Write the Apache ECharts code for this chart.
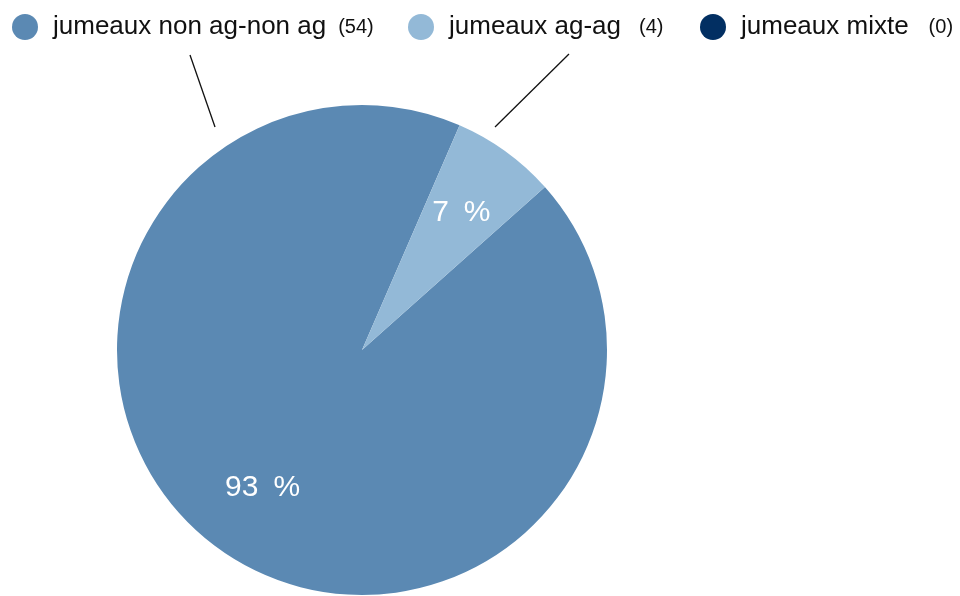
<!DOCTYPE html>
<html>
<head>
<meta charset="utf-8">
<script src="https://cdn.jsdelivr.net/npm/echarts@6/dist/echarts.min.js"></script>
<style>
    html, body { margin: 0; padding: 0; background: #fff; }
    #pieShow { width: 960px; height: 596px; }
</style>
</head>
<body>
<div id="pieShow"></div>
<script>
var names = ['jumeaux non ag-non ag', 'jumeaux ag-ag', 'jumeaux mixte'];
var counts = [54, 4, 0];
var colors = ['#5b89b3', '#93b9d7', '#022f62'];

var legendLeft = [12, 408, 700];
var countGap = [12, 18, 20];

var pieData = names.map(function (n, i) {
    return {name: n, value: counts[i], itemStyle: {color: colors[i]}};
});

var legends = names.map(function (n, i) {
    return {
        left: legendLeft[i],
        top: 14,
        padding: 0,
        icon: 'circle',
        itemWidth: 26,
        itemHeight: 26,
        data: [n],
        formatter: function (name) {
            return '{n|' + name + '}{c|(' + counts[i] + ')}';
        },
        textStyle: {
            rich: {
                n: {fontSize: 26, color: '#111', fontFamily: 'Liberation Sans', padding: [0, 0, 0, 10]},
                c: {fontSize: 20, color: '#111', fontFamily: 'Liberation Sans', padding: [0, 0, 0, countGap[i]]}
            }
        }
    };
});

var pieShow = echarts.init(document.getElementById('pieShow'));

var option = {
    animation: false,
    legend: legends,
    graphic: [
        {type: 'line', shape: {x1: 190, y1: 55, x2: 215, y2: 127}, style: {stroke: '#111', lineWidth: 1.3}},
        {type: 'line', shape: {x1: 569, y1: 54, x2: 495, y2: 127}, style: {stroke: '#111', lineWidth: 1.3}}
    ],
    series: [{
        name: 'jumeaux',
        type: 'pie',
        center: [362, 350],
        radius: 245,
        startAngle: 41.7,
        clockwise: true,
        label: {show: false},
        labelLine: {show: false},
        emphasis: {disabled: true},
        data: pieData
    }, {
        // serie fantome pour placer les pourcentages plus loin du centre
        name: 'labels',
        type: 'pie',
        center: [362, 350],
        radius: [88, 245],
        startAngle: 41.7,
        clockwise: true,
        silent: true,
        percentPrecision: 0,
        itemStyle: {color: 'rgba(0,0,0,0)'},
        label: {
            show: true,
            position: 'inside',
            color: '#fff',
            fontSize: 30,
            fontFamily: 'Liberation Sans',
            formatter: function (p) {
                return p.value ? p.percent + '\u2002%' : '';
            }
        },
        labelLine: {show: false},
        data: names.map(function (n, i) {
            return {name: n, value: counts[i]};
        })
    }]
};

pieShow.setOption(option);
</script>
</body>
</html>
